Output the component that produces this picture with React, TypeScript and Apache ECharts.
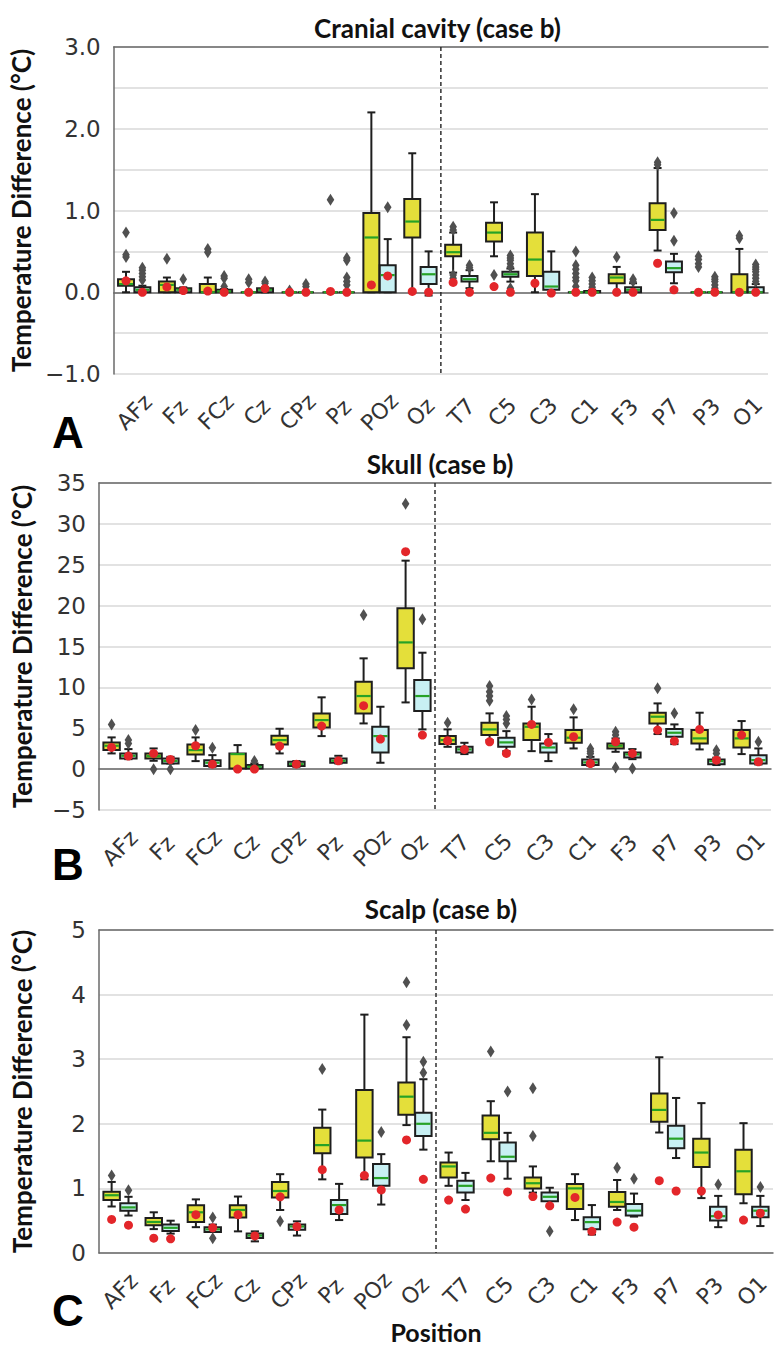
import React, { useEffect, useRef } from "react";
import * as echarts from "echarts";

const positions = ["AFz", "Fz", "FCz", "Cz", "CPz", "Pz", "POz", "Oz", "T7", "C5", "C3", "C1", "F3", "P7", "P3", "O1"];
const dividerAfter = 7;

// five-number summaries: [min, q1, median, q3, max]
const cavityYellow = [
  [0, 0.08, 0.1, 0.16, 0.25], [0, 0, 0.09, 0.13, 0.18], [0, 0, 0, 0.1, 0.18], [0, 0, 0, 0, 0],
  [0, 0, 0, 0, 0], [0, 0, 0, 0, 0], [0, 0, 0.67, 0.97, 2.2], [0, 0.67, 0.865, 1.14, 1.7],
  [0.24, 0.44, 0.49, 0.58, 0.73], [0.44, 0.62, 0.73, 0.85, 1.1], [0, 0.2, 0.4, 0.73, 1.2], [0, 0, 0, 0, 0],
  [0, 0.11, 0.18, 0.22, 0.31], [0.51, 0.76, 0.885, 1.09, 1.52], [0, 0, 0, 0, 0], [0, 0, 0, 0.22, 0.53],
];
const cavityCyan = [
  [0, 0, 0.03, 0.06, 0.08], [0, 0, 0.03, 0.05, 0.06], [0, 0, 0.01, 0.03, 0.04], [0, 0, 0.03, 0.05, 0.06],
  [0, 0, 0, 0, 0], [0, 0, 0, 0, 0], [0, 0, 0.21, 0.33, 0.65], [-0.04, 0.1, 0.22, 0.31, 0.5],
  [0.05, 0.13, 0.16, 0.2, 0.27], [0.13, 0.19, 0.22, 0.25, 0.29], [0, 0.03, 0.07, 0.25, 0.5], [0, 0, 0, 0.015, 0.03],
  [0, 0, 0.03, 0.06, 0.11], [0.11, 0.245, 0.295, 0.375, 0.47], [0, 0, 0, 0, 0], [0, 0, 0, 0.06, 0.1],
];
// outliers: [position index, value]
const cavityYellowOutliers = [
  [0, 0.73], [0, 0.46], [0, 0.43], [1, 0.41], [2, 0.53], [2, 0.49], [3, 0.16], [3, 0.12], [4, 0.02], [5, 1.13],
  [8, 0.8], [8, 0.76], [8, 0.21], [8, 0.17], [9, 0.21], [11, 0.5], [11, 0.33], [11, 0.28], [11, 0.23], [11, 0.18],
  [11, 0.14], [11, 0.07], [12, 0.43], [13, 1.59], [13, 1.56], [14, 0.44], [14, 0.4], [14, 0.35], [14, 0.31],
  [15, 0.69], [15, 0.66],
];
const cavityCyanOutliers = [
  [0, 0.3], [0, 0.27], [0, 0.23], [0, 0.19], [0, 0.15], [1, 0.16], [2, 0.2], [2, 0.17], [2, 0.07], [3, 0.13], [3, 0.11],
  [4, 0.1], [4, 0.07], [5, 0.42], [5, 0.39], [5, 0.18], [5, 0.13], [5, 0.09], [6, 1.04], [8, 0.33], [8, 0.3],
  [9, 0.45], [9, 0.42], [9, 0.39], [9, 0.35], [9, 0.31], [9, 0.05], [11, 0.18], [11, 0.14], [11, 0.1], [11, 0.06],
  [12, 0.16], [12, 0.13], [13, 0.97], [13, 0.63], [14, 0.19], [14, 0.16], [14, 0.13], [14, 0.09], [14, 0.05],
  [15, 0.34], [15, 0.31], [15, 0.28], [15, 0.25], [15, 0.21], [15, 0.17], [15, 0.13],
];
const cavityYellowRed = [0.14, 0.065, 0.015, 0, 0, 0.01, 0.09, 0.01, 0.12, 0.07, 0.11, 0, 0, 0.355, 0, 0];
const cavityCyanRed = [0, 0.02, 0, 0.045, 0, 0, 0.2, 0, 0, 0, -0.01, 0, 0, 0.03, 0, 0];

const skullYellow = [
  [1.92, 2.33, 2.86, 3.27, 3.88], [1.02, 1.31, 1.59, 1.92, 2.53], [0.98, 1.8, 2.33, 3.0, 3.88], [0, 0.08, 1.84, 1.92, 2.94],
  [1.92, 3.02, 3.55, 4.08, 4.94], [4.04, 5.1, 6.0, 6.8, 8.78], [5.59, 6.8, 8.94, 10.7, 13.55], [8.16, 12.33, 15.5, 19.67, 25.5],
  [2.73, 3.06, 3.55, 4.04, 4.86], [3.55, 4.16, 4.86, 5.67, 6.82], [2.2, 3.55, 5.18, 5.59, 7.63], [2.53, 3.22, 3.84, 4.78, 6.33],
  [2.12, 2.53, 2.86, 3.14, 3.76], [4.29, 5.59, 6.41, 6.9, 8.04], [2.41, 3.14, 3.76, 4.78, 6.9], [1.84, 2.65, 3.76, 4.78, 5.88],
];
const skullCyan = [
  [1.22, 1.31, 1.63, 1.92, 2.45], [0.69, 0.69, 1.0, 1.31, 1.5], [0.29, 0.37, 0.78, 1.1, 1.71], [0, 0.08, 0.29, 0.49, 0.69],
  [0.29, 0.37, 0.61, 0.9, 0.98], [0.69, 0.78, 1.02, 1.3, 1.63], [0.78, 2.04, 4.04, 5.18, 7.63], [4.86, 7.1, 8.94, 10.9, 14.24],
  [1.84, 2.04, 2.41, 2.73, 3.22], [2.2, 2.73, 3.27, 3.84, 4.65], [0.98, 2.04, 2.65, 3.14, 4.29], [0.41, 0.49, 0.82, 1.18, 1.5],
  [1.22, 1.43, 1.8, 2.04, 2.45], [3.06, 3.96, 4.45, 4.9, 5.47], [0.5, 0.61, 0.98, 1.18, 1.4], [0.57, 0.69, 1.1, 1.71, 2.53],
];
const skullYellowOutliers = [
  [0, 5.47], [1, 0.0], [2, 4.78], [6, 18.86], [7, 32.45], [8, 5.67], [9, 10.16], [9, 9.47], [9, 8.94], [9, 8.37],
  [10, 8.53], [11, 7.31], [12, 4.57], [12, 4.16], [12, 0.2], [13, 9.88],
];
const skullCyanOutliers = [
  [0, 3.55], [0, 3.14], [1, 0.0], [2, 2.6], [3, 1.0], [7, 18.33], [9, 6.49], [9, 6.08], [9, 5.59],
  [11, 2.5], [11, 2.2], [11, 1.9], [12, 0.08], [13, 6.82], [14, 2.3], [14, 1.9], [15, 3.35],
];
const skullYellowRed = [2.65, 1.92, 2.86, 0, 2.82, 5.27, 7.76, 26.6, 3.47, 3.35, 5.47, 3.96, 3.35, 4.78, 4.86, 4.16];
const skullCyanRed = [1.6, 1.18, 0.61, 0.0, 0.61, 1.02, 3.67, 4.16, 2.41, 1.92, 3.27, 0.69, 1.92, 3.43, 1.1, 0.9];

const scalpYellow = [
  [0.72, 0.82, 0.894, 0.95, 1.1], [0.37, 0.43, 0.48, 0.54, 0.63], [0.4, 0.48, 0.63, 0.74, 0.83], [0.335, 0.55, 0.666, 0.74, 0.874],
  [0.666, 0.86, 0.96, 1.1, 1.22], [1.14, 1.545, 1.67, 1.94, 2.22], [1.14, 1.48, 1.74, 2.525, 3.69], [1.98, 2.14, 2.42, 2.64, 3.34],
  [1.04, 1.17, 1.34, 1.4, 1.555], [1.42, 1.76, 1.86, 2.13, 2.35], [0.935, 1.0, 1.08, 1.17, 1.34], [0.51, 0.68, 1.0, 1.07, 1.22],
  [0.666, 0.716, 0.79, 0.945, 1.13], [1.865, 2.03, 2.215, 2.47, 3.03], [0.85, 1.33, 1.555, 1.77, 2.32], [0.77, 0.91, 1.265, 1.6, 2.01],
];
const scalpCyan = [
  [0.58, 0.655, 0.706, 0.77, 0.87], [0.3, 0.34, 0.39, 0.44, 0.5], [0.325, 0.325, 0.366, 0.4, 0.44], [0.18, 0.234, 0.27, 0.3, 0.335],
  [0.27, 0.36, 0.41, 0.44, 0.49], [0.51, 0.605, 0.742, 0.82, 1.07], [0.75, 1.04, 1.16, 1.377, 1.53], [1.6, 1.81, 2.0, 2.17, 2.69],
  [0.82, 0.935, 1.04, 1.12, 1.24], [1.15, 1.42, 1.49, 1.71, 1.86], [0.72, 0.8, 0.87, 0.935, 1.01], [0.285, 0.366, 0.478, 0.554, 0.742],
  [0.564, 0.58, 0.655, 0.757, 0.92], [1.47, 1.62, 1.77, 1.97, 2.4], [0.4, 0.503, 0.57, 0.716, 0.884], [0.417, 0.554, 0.655, 0.716, 0.884],
];
const scalpYellowOutliers = [
  [0, 1.2], [4, 0.49], [5, 2.85], [7, 4.19], [7, 3.53], [9, 3.12], [10, 2.55], [10, 1.81], [12, 1.32],
];
const scalpCyanOutliers = [
  [0, 0.97], [2, 0.55], [2, 0.23], [6, 1.875], [7, 2.96], [7, 2.79], [9, 2.5], [10, 0.335], [12, 1.15], [14, 1.06], [15, 1.02],
];
const scalpYellowRed = [0.52, 0.23, 0.594, 0.594, 0.87, 1.29, 1.2, 1.75, 0.82, 1.16, 0.874, 0.86, 0.478, 1.12, 0.96, 0.51];
const scalpCyanRed = [0.43, 0.22, 0.39, 0.264, 0.41, 0.666, 0.976, 1.14, 0.68, 0.945, 0.73, 0.335, 0.4, 0.96, 0.59, 0.615];

const panelTitles = ["Cranial cavity (case b)", "Skull (case b)", "Scalp (case b)"];
const panelLetters = ["A", "B", "C"];
const yAxisName = "Temperature Difference (°C)";
const xAxisName = "Position";

const YELLOW = "#e4df3a";
const CYAN = "#c8f0f3";
const GREEN = "#26a226";
const EDGE = "#1e1e1e";
const RED = "#e3262a";
const OUT = "#505050";

const minus = (s: string) => s.replace("-", "\u2212");

export default function App() {
  const ref = useRef<HTMLDivElement>(null);
  useEffect(() => {
    document.body.style.margin = "0";
    const chart = echarts.init(ref.current!, null, { renderer: "svg" });

    const panels = [
      { yellow: cavityYellow, cyan: cavityCyan, yo: cavityYellowOutliers, co: cavityCyanOutliers, yr: cavityYellowRed, cr: cavityCyanRed,
        min: -1, max: 3, interval: 0.5, fmt: (v: number) => (Math.abs(v - Math.round(v)) < 1e-9 ? minus(v.toFixed(1)) : "") },
      { yellow: skullYellow, cyan: skullCyan, yo: skullYellowOutliers, co: skullCyanOutliers, yr: skullYellowRed, cr: skullCyanRed,
        min: -5, max: 35, interval: 5, fmt: (v: number) => minus(String(v)) },
      { yellow: scalpYellow, cyan: scalpCyan, yo: scalpYellowOutliers, co: scalpCyanOutliers, yr: scalpYellowRed, cr: scalpCyanRed,
        min: 0, max: 5, interval: 1, fmt: (v: number) => String(v) },
    ];
    const layout = [
      { top: 47, height: 327, left: 97, right: 6, titleY: 10, letterY: 410 },
      { top: 483, height: 327, left: 99, right: 3, titleY: 446, letterY: 842 },
      { top: 930, height: 328, left: 99, right: 1, titleY: 891, letterY: 1288 },
    ];

    const boxRender = (side: number, fill: string) => (params: any, api: any) => {
      const i = api.value(0);
      const catW = api.size([1, 0])[0];
      const cx = api.coord([i, 0])[0] + side * 0.2 * catW;
      const half = 0.195 * catW;
      const cap = half * 0.5;
      const y = [1, 2, 3, 4, 5].map((d) => api.coord([i, api.value(d)])[1]);
      const ls = { stroke: EDGE, lineWidth: 2 };
      return {
        type: "group",
        children: [
          { type: "line", shape: { x1: cx, y1: y[3], x2: cx, y2: y[4] }, style: ls },
          { type: "line", shape: { x1: cx, y1: y[0], x2: cx, y2: y[1] }, style: ls },
          { type: "line", shape: { x1: cx - cap, y1: y[4], x2: cx + cap, y2: y[4] }, style: ls },
          { type: "line", shape: { x1: cx - cap, y1: y[0], x2: cx + cap, y2: y[0] }, style: ls },
          { type: "rect", shape: { x: cx - half, y: y[3], width: 2 * half, height: y[1] - y[3] }, style: { fill, stroke: EDGE, lineWidth: 2 } },
          { type: "line", shape: { x1: cx - half + 1, y1: y[2], x2: cx + half - 1, y2: y[2] }, style: { stroke: GREEN, lineWidth: 2.2 } },
        ],
      };
    };
    const outlierRender = (side: number) => (params: any, api: any) => {
      const i = api.value(0);
      const catW = api.size([1, 0])[0];
      const p = api.coord([i, api.value(1)]);
      const cx = p[0] + side * 0.2 * catW;
      const cy = p[1];
      return {
        type: "polygon",
        shape: { points: [[cx, cy - 6], [cx + 3.8, cy], [cx, cy + 6], [cx - 3.8, cy]] },
        style: { fill: OUT },
      };
    };
    const redRender = (side: number) => (params: any, api: any) => {
      const i = api.value(0);
      const catW = api.size([1, 0])[0];
      const p = api.coord([i, api.value(1)]);
      return { type: "circle", shape: { cx: p[0] + side * 0.2 * catW, cy: p[1], r: 4.5 }, style: { fill: RED } };
    };
    const dividerRender = (params: any, api: any) => {
      const i = api.value(0);
      const catW = api.size([1, 0])[0];
      const x = api.coord([i, 0])[0] + catW / 2;
      const cs = params.coordSys;
      return {
        type: "line",
        shape: { x1: x, y1: cs.y, x2: x, y2: cs.y + cs.height },
        style: { stroke: "#222", lineWidth: 1.4, lineDash: [4, 3] },
      };
    };

    const grid: any[] = [];
    const xAxis: any[] = [];
    const yAxis: any[] = [];
    const series: any[] = [];
    const title: any[] = [];
    const graphic: any[] = [];

    panels.forEach((p, g) => {
      const L = layout[g];
      grid.push({ top: L.top, height: L.height, left: L.left, right: L.right, containLabel: false });
      xAxis.push({
        gridIndex: g, type: "category", data: positions, boundaryGap: true,
        axisLine: { show: true, lineStyle: { color: "#6a6a6a", width: 1.5 } },
        axisTick: { show: false },
        axisLabel: {
          rotate: 45, align: "center", verticalAlign: "middle", margin: 38, interval: 0,
          fontSize: 22, color: "#333", fontFamily: "DejaVu Sans",
        },
        splitLine: { show: false },
        ...(g === 2 ? { name: xAxisName, nameLocation: "middle", nameGap: 66,
          nameTextStyle: { fontSize: 25, fontWeight: "bold", color: "#111", fontFamily: "Lato" } } : {}),
      });
      xAxis.push({
        gridIndex: g, type: "category", data: positions, position: "top",
        axisLine: { show: true, lineStyle: { color: "#6a6a6a", width: 1.5 } },
        axisTick: { show: false }, axisLabel: { show: false }, splitLine: { show: false },
      });
      yAxis.push({
        gridIndex: g, type: "value", min: p.min, max: p.max, interval: p.interval,
        axisLine: { show: true, lineStyle: { color: "#6a6a6a", width: 1.5 } },
        axisTick: { show: false },
        axisLabel: { formatter: p.fmt, fontSize: 23, color: "#333", fontFamily: "DejaVu Sans", margin: 13 },
        splitLine: { show: true, lineStyle: { color: "#d9d9d9", width: 1.5 } },
        name: yAxisName, nameLocation: "middle", nameGap: 64,
        nameTextStyle: { fontSize: 26, fontWeight: "bold", color: "#111", fontFamily: "Lato" },
      });
      title.push({
        text: panelTitles[g], left: L.left + (774 - L.left - L.right) / 2, top: L.titleY, textAlign: "center",
        textStyle: { fontSize: 26, fontWeight: "bold", color: "#111", fontFamily: "Lato" },
      });
      graphic.push({
        type: "text", left: 52, top: L.letterY,
        style: { text: panelLetters[g], fontSize: 44, fontWeight: "bold", fill: "#000", fontFamily: "Liberation Sans" },
      });

      const xi = g * 2;
      series.push({ type: "custom", xAxisIndex: xi, yAxisIndex: g, renderItem: dividerRender, data: [[dividerAfter]], encode: { x: 0, y: -1 }, z: 1, silent: true });
      series.push({ type: "custom", xAxisIndex: xi, yAxisIndex: g, renderItem: boxRender(-1, YELLOW),
        data: p.yellow.map((b, i) => [i, ...b]), encode: { x: 0, y: [1, 2, 3, 4, 5] }, z: 2 });
      series.push({ type: "custom", xAxisIndex: xi, yAxisIndex: g, renderItem: boxRender(1, CYAN),
        data: p.cyan.map((b, i) => [i, ...b]), encode: { x: 0, y: [1, 2, 3, 4, 5] }, z: 2 });
      series.push({ type: "custom", xAxisIndex: xi, yAxisIndex: g, renderItem: outlierRender(-1), data: p.yo, encode: { x: 0, y: 1 }, z: 3 });
      series.push({ type: "custom", xAxisIndex: xi, yAxisIndex: g, renderItem: outlierRender(1), data: p.co, encode: { x: 0, y: 1 }, z: 3 });
      series.push({ type: "custom", xAxisIndex: xi, yAxisIndex: g, renderItem: redRender(-1), data: p.yr.map((v, i) => [i, v]), encode: { x: 0, y: 1 }, z: 4 });
      series.push({ type: "custom", xAxisIndex: xi, yAxisIndex: g, renderItem: redRender(1), data: p.cr.map((v, i) => [i, v]), encode: { x: 0, y: 1 }, z: 4 });
    });

    chart.setOption({ animation: false, backgroundColor: "#fff", title, grid, xAxis, yAxis, series, graphic });
    return () => chart.dispose();
  }, []);
  return <div ref={ref} style={{ width: 774, height: 1345 }} />;
}
